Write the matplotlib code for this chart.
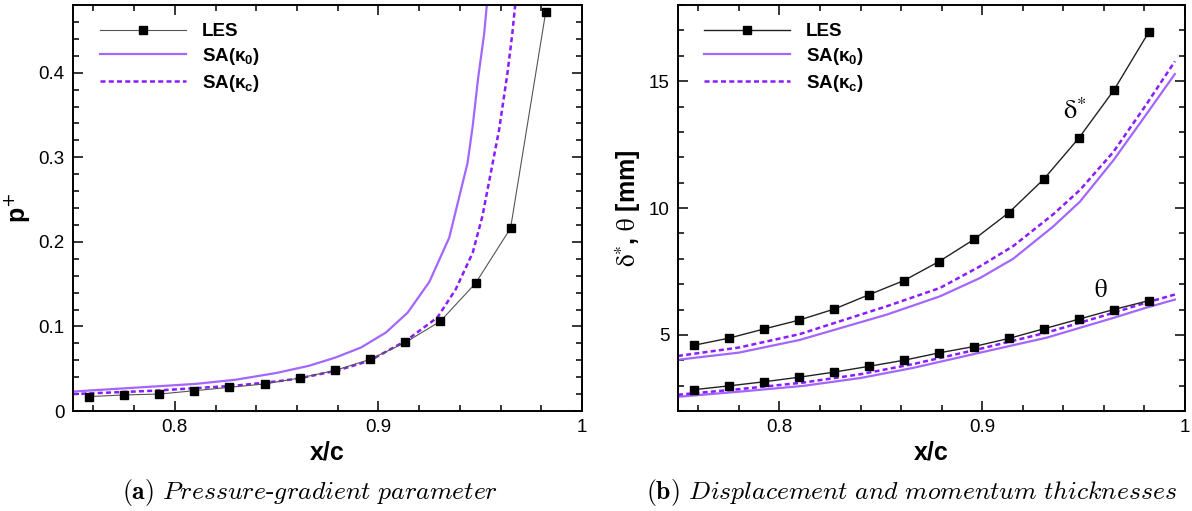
import matplotlib.pyplot as plt
from matplotlib.ticker import MultipleLocator, FuncFormatter
from matplotlib.lines import Line2D

# LES stations (same in both panels)
x_les = [0.7578, 0.7751, 0.7923, 0.8096, 0.8268, 0.8441, 0.8614,
         0.8787, 0.8959, 0.9132, 0.9304, 0.9477, 0.9649, 0.9822]
p_les = [0.017, 0.019, 0.020, 0.024, 0.028, 0.032, 0.039,
         0.048, 0.061, 0.081, 0.106, 0.151, 0.216, 0.472]
dstar_les = [4.59, 4.87, 5.23, 5.58, 6.01, 6.58, 7.14,
             7.89, 8.76, 9.82, 11.14, 12.76, 14.64, 16.94]
theta_les = [2.84, 2.99, 3.15, 3.33, 3.53, 3.76, 4.00,
             4.29, 4.54, 4.86, 5.24, 5.62, 6.00, 6.35]

# SA(kappa_0) and SA(kappa_c), pressure-gradient parameter
x_p_k0 = [0.75, 0.77, 0.79, 0.81, 0.83, 0.85, 0.866, 0.879, 0.8915, 0.9037,
          0.9144, 0.925, 0.9348, 0.9438, 0.9463, 0.949, 0.952, 0.954]
p_k0 = [0.023, 0.026, 0.029, 0.032, 0.037, 0.045, 0.0535, 0.0633, 0.0751, 0.0928,
        0.1164, 0.1526, 0.205, 0.2934, 0.3366, 0.394, 0.447, 0.50]
x_p_kc = [0.75, 0.77, 0.79, 0.81, 0.83, 0.85, 0.8613, 0.88, 0.8956, 0.9135,
          0.929, 0.938, 0.9463, 0.9511, 0.9552, 0.9593, 0.9634, 0.9658, 0.968]
p_kc = [0.020, 0.022, 0.024, 0.027, 0.030, 0.035, 0.0386, 0.048, 0.0594, 0.083,
        0.1106, 0.144, 0.187, 0.2305, 0.2816, 0.3327, 0.3997, 0.4468, 0.50]

# SA displacement thickness
x_d = [0.75, 0.78, 0.81, 0.853, 0.8792, 0.8989, 0.9153, 0.935, 0.9482, 0.9647, 0.9811, 0.995]
dstar_k0 = [4.02, 4.30, 4.80, 5.80, 6.52, 7.24, 8.00, 9.27, 10.25, 11.88, 13.71, 15.28]
dstar_kc = [4.17, 4.50, 5.03, 6.13, 6.85, 7.70, 8.50, 9.75, 10.71, 12.21, 14.10, 15.78]

# SA momentum thickness
x_t = [0.75, 0.78, 0.8118, 0.84, 0.866, 0.899, 0.9318, 0.9647, 0.98, 0.995]
theta_k0 = [2.56, 2.76, 2.99, 3.30, 3.70, 4.30, 4.89, 5.67, 6.05, 6.39]
theta_kc = [2.64, 2.86, 3.12, 3.45, 3.85, 4.45, 5.09, 5.87, 6.25, 6.59]

labels = ['LES', r'SA($\mathregular{\kappa_0}$)', r'SA($\mathregular{\kappa_c}$)']

c_k0 = '#a366ff'
c_kc = '#8a1cff'

plt.rcParams['font.family'] = ['Liberation Sans', 'DejaVu Sans']

fig = plt.figure(figsize=(11.92, 5.11), dpi=100)
ax1 = fig.add_axes([73 / 1192, 100 / 511, 509 / 1192, 406 / 511])
ax2 = fig.add_axes([678 / 1192, 100 / 511, 507 / 1192, 406 / 511])

fmt = FuncFormatter(lambda v, pos: '%g' % round(v, 6))


def style(ax):
    for s in ax.spines.values():
        s.set_linewidth(1.4)
    ax.tick_params(which='both', direction='in', top=True, right=True,
                   labelsize=13.5, pad=6, width=1.1)
    ax.tick_params(which='major', length=7)
    ax.tick_params(which='minor', length=4.3)
    ax.xaxis.set_major_locator(MultipleLocator(0.1))
    ax.xaxis.set_minor_locator(MultipleLocator(0.02))
    ax.xaxis.set_major_formatter(fmt)
    ax.yaxis.set_major_formatter(fmt)
    ax.set_xlim(0.75, 1.0)
    ax.set_xlabel('x/c', fontsize=18, fontweight='bold')
    ax.xaxis.set_label_coords(0.5, -0.072)


leg_kw = dict(loc='upper left', frameon=False, prop={'weight': 'bold', 'size': 13.5},
              handlelength=4.6, handletextpad=0.85, labelspacing=0.3,
              borderpad=0, borderaxespad=0)
dash = (2.0, 1.3)

# (a) pressure-gradient parameter
ax1.plot(x_les, p_les, color='#555555', lw=0.8, marker='s', ms=5.5,
         mfc='black', mec='black', label=labels[0], zorder=3)
ax1.plot(x_p_k0, p_k0, color=c_k0, lw=1.6, label=labels[1])
ax1.plot(x_p_kc, p_kc, color=c_kc, lw=1.8, ls=(0, dash), label=labels[2])
style(ax1)
ax1.set_ylim(0, 0.48)
ax1.yaxis.set_major_locator(MultipleLocator(0.1))
ax1.yaxis.set_minor_locator(MultipleLocator(0.02))
ax1.set_ylabel('p$^{+}$', fontsize=18, fontweight='bold')
ax1.yaxis.set_label_coords(-0.08, 0.5)
ax1.legend(bbox_to_anchor=(0.053, 0.955), **leg_kw)

# (b) displacement and momentum thicknesses
ax2.plot(x_les, dstar_les, color='#222222', lw=1.0, marker='s', ms=5.5,
         mfc='black', mec='black', zorder=3)
ax2.plot(x_d, dstar_k0, color=c_k0, lw=1.6)
ax2.plot(x_d, dstar_kc, color=c_kc, lw=1.8, ls=(0, dash))
ax2.plot(x_les, theta_les, color='#222222', lw=1.0, marker='s', ms=5.5,
         mfc='black', mec='black', zorder=3)
ax2.plot(x_t, theta_k0, color=c_k0, lw=1.6)
ax2.plot(x_t, theta_kc, color=c_kc, lw=1.8, ls=(0, dash))
style(ax2)
ax2.set_ylim(2, 18)
ax2.yaxis.set_major_locator(MultipleLocator(5))
ax2.yaxis.set_minor_locator(MultipleLocator(1))
ax2.set_ylabel(r'$\mathrm{\delta}^{*}$, $\mathrm{\theta}$ [mm]', fontsize=18,
               fontweight='bold', math_fontfamily='stix')
ax2.yaxis.set_label_coords(-0.07, 0.5)
ax2.text(0.9458, 13.84, r'$\mathrm{\delta}^{*}$', fontsize=19,
         math_fontfamily='stix', ha='center', va='center')
ax2.text(0.9586, 6.78, r'$\mathrm{\theta}$', fontsize=18,
         math_fontfamily='stix', ha='center', va='center')
handles = [
    Line2D([], [], color='#222222', lw=1.0, marker='s', ms=5.5, mfc='black', mec='black'),
    Line2D([], [], color=c_k0, lw=1.6),
    Line2D([], [], color=c_kc, lw=1.8, ls=(0, dash)),
]
ax2.legend(handles, labels, bbox_to_anchor=(0.051, 0.955), **leg_kw)

# captions
fig.text(310 / 1192, 1 - 492 / 511,
         r'$\mathbf{(a)}$ $\mathit{Pressure}$-$\mathit{gradient\ parameter}$',
         fontsize=18.5, family='cmr10', math_fontfamily='cm', ha='center', va='center')
fig.text(912 / 1192, 1 - 492 / 511,
         r'$\mathbf{(b)}$ $\mathit{Displacement\ and\ momentum\ thicknesses}$',
         fontsize=18.5, family='cmr10', math_fontfamily='cm', ha='center', va='center')

fig.savefig('out.png', dpi=100)
